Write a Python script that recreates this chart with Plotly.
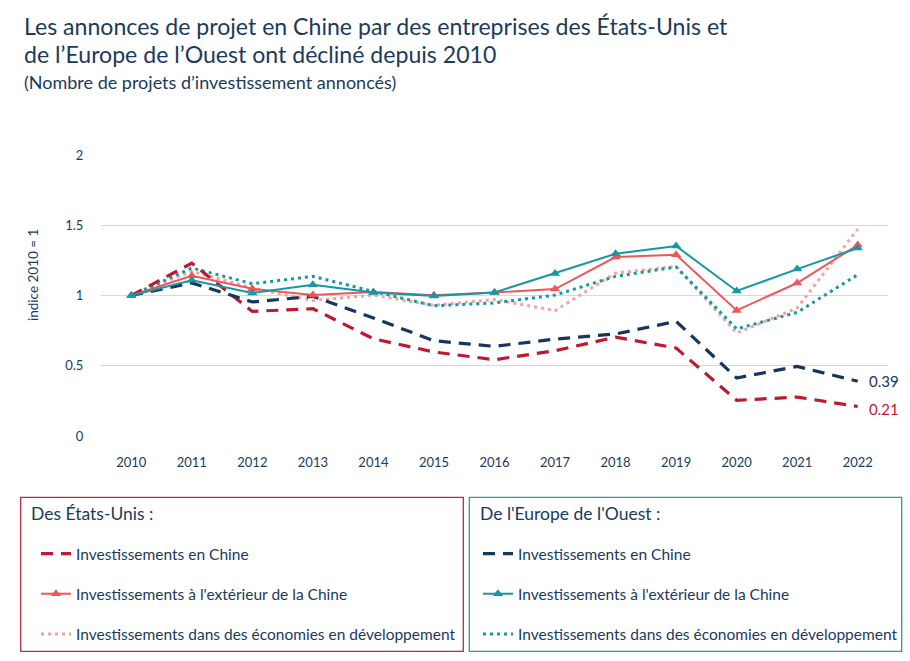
import plotly.graph_objects as go

years = [2010, 2011, 2012, 2013, 2014, 2015, 2016, 2017, 2018, 2019, 2020, 2021, 2022]

us_china = [1.0, 1.23, 0.887, 0.906, 0.692, 0.598, 0.543, 0.607, 0.704, 0.626, 0.254, 0.277, 0.21]
us_outside = [1.0, 1.141, 1.048, 1.003, 1.025, 1.001, 1.022, 1.046, 1.274, 1.29, 0.894, 1.089, 1.359]
us_dev = [1.0, 1.172, 1.053, 0.965, 1.003, 0.93, 0.972, 0.892, 1.16, 1.207, 0.733, 0.911, 1.473]

eu_china = [1.0, 1.09, 0.954, 0.994, 0.84, 0.678, 0.638, 0.69, 0.726, 0.816, 0.413, 0.495, 0.39]
eu_outside = [1.0, 1.108, 1.018, 1.077, 1.022, 0.996, 1.022, 1.157, 1.297, 1.352, 1.032, 1.188, 1.338]
eu_dev = [1.0, 1.196, 1.084, 1.136, 1.029, 0.927, 0.947, 1.003, 1.136, 1.203, 0.762, 0.88, 1.148]

y_ticks = [0, 0.5, 1, 1.5, 2]
y_ticktext = ["0", "0.5", "1", "1.5", "2"]

title1 = "Les annonces de projet en Chine par des entreprises des États-Unis et"
title2 = "de l’Europe de l’Ouest ont décliné depuis 2010"
subtitle = "(Nombre de projets d’investissement annoncés)"
ytitle = "indice 2010 = 1"
leg1_title = "Des États-Unis :"
leg2_title = "De l'Europe de l'Ouest :"
names = ["Investissements en Chine",
         "Investissements à l'extérieur de la Chine",
         "Investissements dans des économies en développement"]

NAVY = "#1b3a5c"
RED_DARK = "#c0182f"
CORAL = "#ef5656"
PINK = "#f6a0a0"
DNAVY = "#17365d"
TEAL = "#1597a6"
GRID = "#c6dcef"
FONT = "Lato"

W, H = 910, 661
ML, MR, MT, MB = 101, 22, 155, 225
PW = W - ML - MR
PH = H - MT - MB


def px(x):
    return (x - ML) / PW


def py(y):
    return (H - MB - y) / PH


fig = go.Figure()

series = [
    (us_china, names[0], RED_DARK, "12px,8px", 3.2, None, "legend"),
    (us_outside, names[1], CORAL, "solid", 2, "triangle-up", "legend"),
    (us_dev, names[2], PINK, "3px,4px", 3, None, "legend"),
    (eu_china, names[0], DNAVY, "12px,8px", 3.2, None, "legend2"),
    (eu_outside, names[1], TEAL, "solid", 2, "triangle-up", "legend2"),
    (eu_dev, names[2], TEAL, "3px,4px", 3, None, "legend2"),
]

order = [2, 5, 0, 3, 1, 4]
for i in order:
    vals, name, color, dash, width, sym, leg = series[i]
    mode = "lines+markers" if sym else "lines"
    fig.add_trace(go.Scatter(
        x=years, y=vals, name=name, mode=mode,
        line=dict(color=color, width=width, dash=dash),
        marker=dict(symbol=sym or "circle", size=9, color=color),
        legend=leg, legendgroup=f"g{i}", legendrank=i,
        hoverinfo="skip",
    ))

# reference line at 1
fig.add_shape(type="line", xref="x", yref="y", x0=years[0], x1=years[-1],
              y0=1, y1=1, line=dict(color="#1a2b45", width=1.2), layer="below")

# end labels
fig.add_annotation(x=years[-1], y=eu_china[-1], text=f"{eu_china[-1]:.2f}",
                   xanchor="left", xshift=9, yshift=0, showarrow=False,
                   font=dict(family=FONT, size=15, color=DNAVY))
fig.add_annotation(x=years[-1], y=us_china[-1], text=f"{us_china[-1]:.2f}",
                   xanchor="left", xshift=9, yshift=-2, showarrow=False,
                   font=dict(family=FONT, size=15, color=RED_DARK))

# titles
for txt, yy, sz in [(title1, 26, 23.1), (title2, 54, 23.1), (subtitle, 82, 18)]:
    fig.add_annotation(xref="paper", yref="paper", x=px(22), y=py(yy), text=txt,
                       xanchor="left", yanchor="middle", showarrow=False,
                       font=dict(family=FONT, size=sz, color=NAVY))

fig.add_annotation(xref="paper", yref="paper", x=px(33), y=py(275), text=ytitle,
                   textangle=-90, xanchor="center", yanchor="middle", showarrow=False,
                   font=dict(family=FONT, size=13.5, color=NAVY))

# legend boxes and headings
fig.add_shape(type="rect", xref="paper", yref="paper", x0=px(20.7), x1=px(463.3),
              y0=py(497.3), y1=py(651.3), line=dict(color="#c0283c", width=1.3))
fig.add_shape(type="rect", xref="paper", yref="paper", x0=px(469.3), x1=px(901.7),
              y0=py(497.3), y1=py(651.3), line=dict(color="#2a98a8", width=1.3))
for txt, xx in [(leg1_title, 29), (leg2_title, 478)]:
    fig.add_annotation(xref="paper", yref="paper", x=px(xx), y=py(513), text=txt,
                       xanchor="left", yanchor="middle", showarrow=False,
                       font=dict(family=FONT, size=17.5, color=NAVY))

leg_common = dict(
    xref="container", yref="container", xanchor="left", yanchor="top",
    bgcolor="rgba(0,0,0,0)", borderwidth=0, tracegroupgap=17,
    font=dict(family=FONT, size=15.5, color=NAVY), traceorder="grouped",
)

fig.update_layout(
    width=W, height=H,
    margin=dict(l=ML, r=MR, t=MT, b=MB, autoexpand=False),
    paper_bgcolor="white", plot_bgcolor="white",
    font=dict(family=FONT, color=NAVY),
    showlegend=True,
    legend=dict(x=36 / W, y=1 - 537 / H, **leg_common),
    legend2=dict(x=478 / W, y=1 - 537 / H, **leg_common),
    xaxis=dict(range=[2009.5, 2022.5], tickmode="array", tickvals=years,
               ticktext=[str(y) for y in years], showgrid=False, zeroline=False,
               showline=False, ticks="outside", ticklen=14, tickcolor="rgba(0,0,0,0)",
               tickfont=dict(family=FONT, size=13, color=NAVY)),
    yaxis=dict(range=[0, 2], tickmode="array", tickvals=y_ticks, ticktext=y_ticktext,
               showgrid=True, gridcolor=GRID, gridwidth=1, zeroline=False, showline=False,
               ticks="outside", ticklen=14, tickcolor="rgba(0,0,0,0)",
               tickfont=dict(family=FONT, size=13, color=NAVY)),
)

fig.write_html("out.html", config={"displayModeBar": False},
               post_script="document.body.style.margin='0';")
